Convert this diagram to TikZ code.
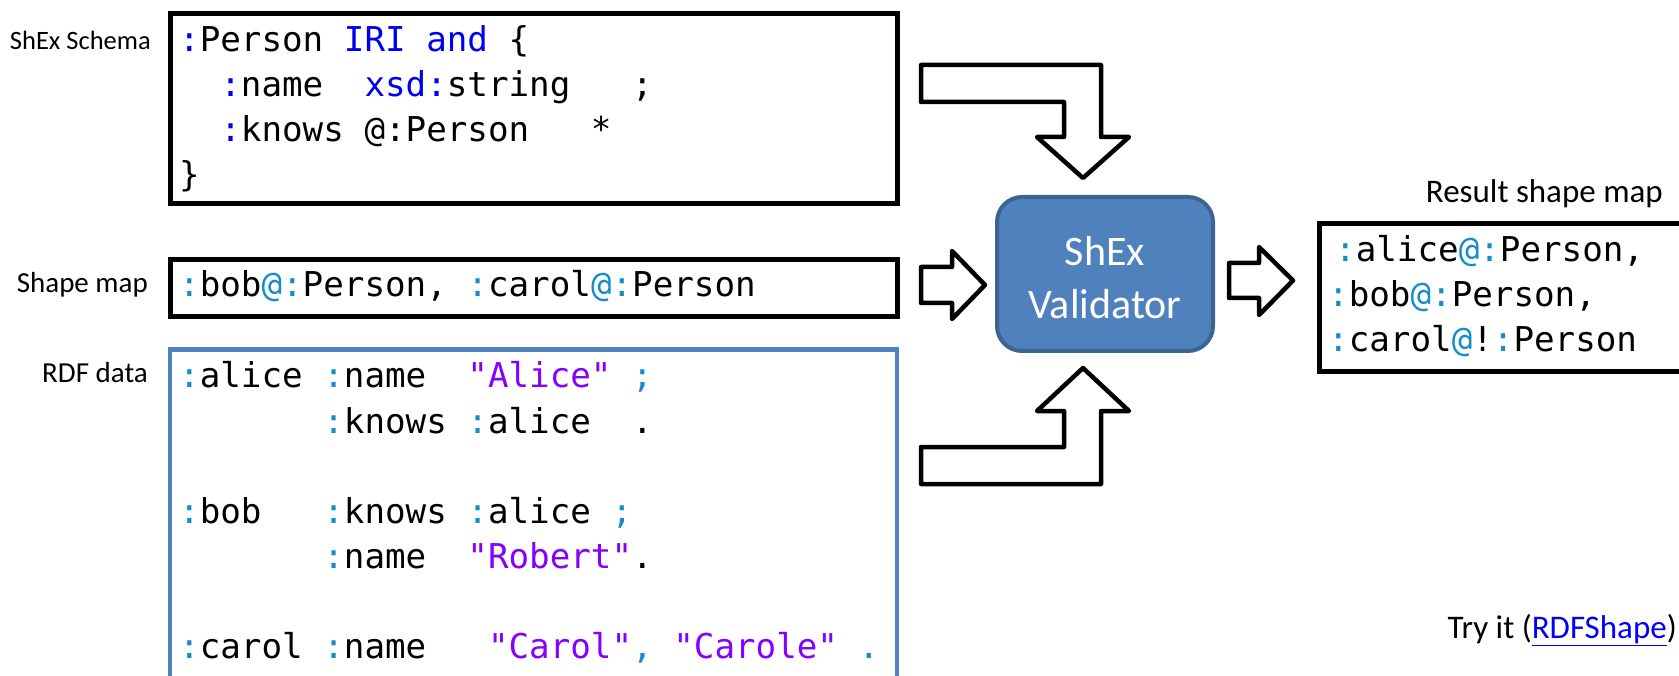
\documentclass[tikz,border=0pt]{standalone}
\usepackage{fontspec}
\setmainfont{Carlito}
\setmonofont{DejaVu Sans Mono}

\definecolor{kwblue}{RGB}{0,0,240}
\definecolor{punct}{RGB}{20,140,205}
\definecolor{strviolet}{RGB}{132,0,255}
\definecolor{rdfframe}{RGB}{79,129,189}
\definecolor{valfill}{RGB}{79,129,189}
\definecolor{valedge}{RGB}{60,100,145}
\definecolor{linkblue}{RGB}{0,0,255}

\newcommand\kwd[1]{\textcolor{kwblue}{#1}}
\newcommand\pct[1]{\textcolor{punct}{#1}}
\newcommand\lit[1]{\textcolor{strviolet}{#1}}

\tikzset{
  codebox/.style={draw=black, line width=5pt, fill=white, inner sep=0pt, anchor=north west},
  rdfbox/.style={draw=rdfframe, line width=4.5pt, fill=white, inner sep=0pt, anchor=north west},
  codeline/.style={anchor=base west, inner sep=0pt, font=\ttfamily\fontsize{34.2}{45}\selectfont},
  lbl/.style={anchor=base east, inner sep=0pt, font=\fontsize{29}{34}\selectfont},
  rlbl/.style={anchor=base east, inner sep=0pt, font=\fontsize{33}{38}\selectfont},
  validator/.style={draw=valedge, fill=valfill, line width=4pt, rounded corners=25pt, inner sep=0pt},
  valtext/.style={anchor=base, inner sep=0pt, text=white, font=\fontsize{42}{54}\selectfont},
  blockarrow/.style={draw=black, fill=white, line width=4.5pt, line join=round},
}

\begin{document}
\begin{tikzpicture}[x=1pt, y=-1pt]
\useasboundingbox (0,0) rectangle (1679,676);
\clip (0,0) rectangle (1679,676);

% --- input panels -------------------------------------------------------
\node[codebox, minimum width=727pt, minimum height=190pt] (schema) at (167.5,11.5) {};
\node[codebox, minimum width=727pt, minimum height=57pt] (map) at (167.5,257.5) {};
\node[rdfbox, minimum width=727pt, minimum height=360pt] (rdf) at (167.5,347.5) {};

% labels on the left
\node[lbl, font=\fontsize{26.5}{32}\selectfont] (lschema) at (151,50) {ShEx Schema};
\node[lbl] (lmap) at (148,293) {Shape map};
\node[lbl] (lrdf) at (148,382) {RDF data};

% schema
\node[codeline] (s1) at (179,52)  {\kwd{:}Person~\kwd{IRI}~\kwd{and}~\{};
\node[codeline] (s2) at (179,97)  {~~\kwd{:}name~~\kwd{xsd:}string~~~;};
\node[codeline] (s3) at (179,142) {~~\kwd{:}knows~@:Person~~~*};
\node[codeline] (s4) at (179,187) {\}};

% shape map
\node[codeline] (m1) at (179,297) {\pct{:}bob\pct{@:}Person,~\pct{:}carol\pct{@:}Person};

% RDF data
\node[codeline] (r1) at (179,388) {\pct{:}alice~\pct{:}name~~\lit{"Alice"}~\pct{;}};
\node[codeline] (r2) at (179,433) {~~~~~~~\pct{:}knows~\pct{:}alice~~.};
\node[codeline] (r3) at (179,523) {\pct{:}bob~~~\pct{:}knows~\pct{:}alice~\pct{;}};
\node[codeline] (r4) at (179,568) {~~~~~~~\pct{:}name~~\lit{"Robert"}.};
\node[codeline] (r5) at (179,658) {\pct{:}carol~\pct{:}name~~~\lit{"Carol"}\pct{,}~\lit{"Carole"}~\pct{.}};

% --- validator ---------------------------------------------------------
\node[validator, minimum width=216pt, minimum height=154pt] (val) at (1105,274) {};
\node[valtext] (valA) at (1105,266) {ShEx};
\node[valtext] (valB) at (1105,319) {Validator};

% --- result -------------------------------------------------------------
\node[codebox, minimum width=420pt, minimum height=147pt] (res) at (1316.5,221.5) {};
\node[rlbl] (lres) at (1663,203) {Result shape map};
\node[codeline] (o1) at (1335,262) {\pct{:}alice\pct{@:}Person,};
\node[codeline] (o2) at (1328,307) {\pct{:}bob\pct{@:}Person,};
\node[codeline] (o3) at (1328,352) {\pct{:}carol\pct{@}!\pct{:}Person};

% --- block arrows ------------------------------------------------------
% schema -> validator (bent, pointing down)
\draw[blockarrow] (921,65) -- (1101,65) -- (1101,137) -- (1129,137) -- (1083,178)
  -- (1037,137) -- (1064,137) -- (1064,102) -- (921,102) -- cycle;
% shape map -> validator
\draw[blockarrow] (921,267) -- (952,267) -- (952,251) -- (985,285) -- (952,319)
  -- (952,303) -- (921,303) -- cycle;
% RDF data -> validator (bent, pointing up)
\draw[blockarrow] (921,484) -- (1101,484) -- (1101,411) -- (1129,411) -- (1083,368)
  -- (1037,411) -- (1064,411) -- (1064,447) -- (921,447) -- cycle;
% validator -> result
\draw[blockarrow] (1229,263) -- (1259,263) -- (1259,247) -- (1293,280.5) -- (1259,315)
  -- (1259,298) -- (1229,298) -- cycle;

% --- footer link -------------------------------------------------------
\node[rlbl] (try) at (1677,638) {Try it (\textcolor{linkblue}{\underline{RDFShape}})};
\end{tikzpicture}
\end{document}
